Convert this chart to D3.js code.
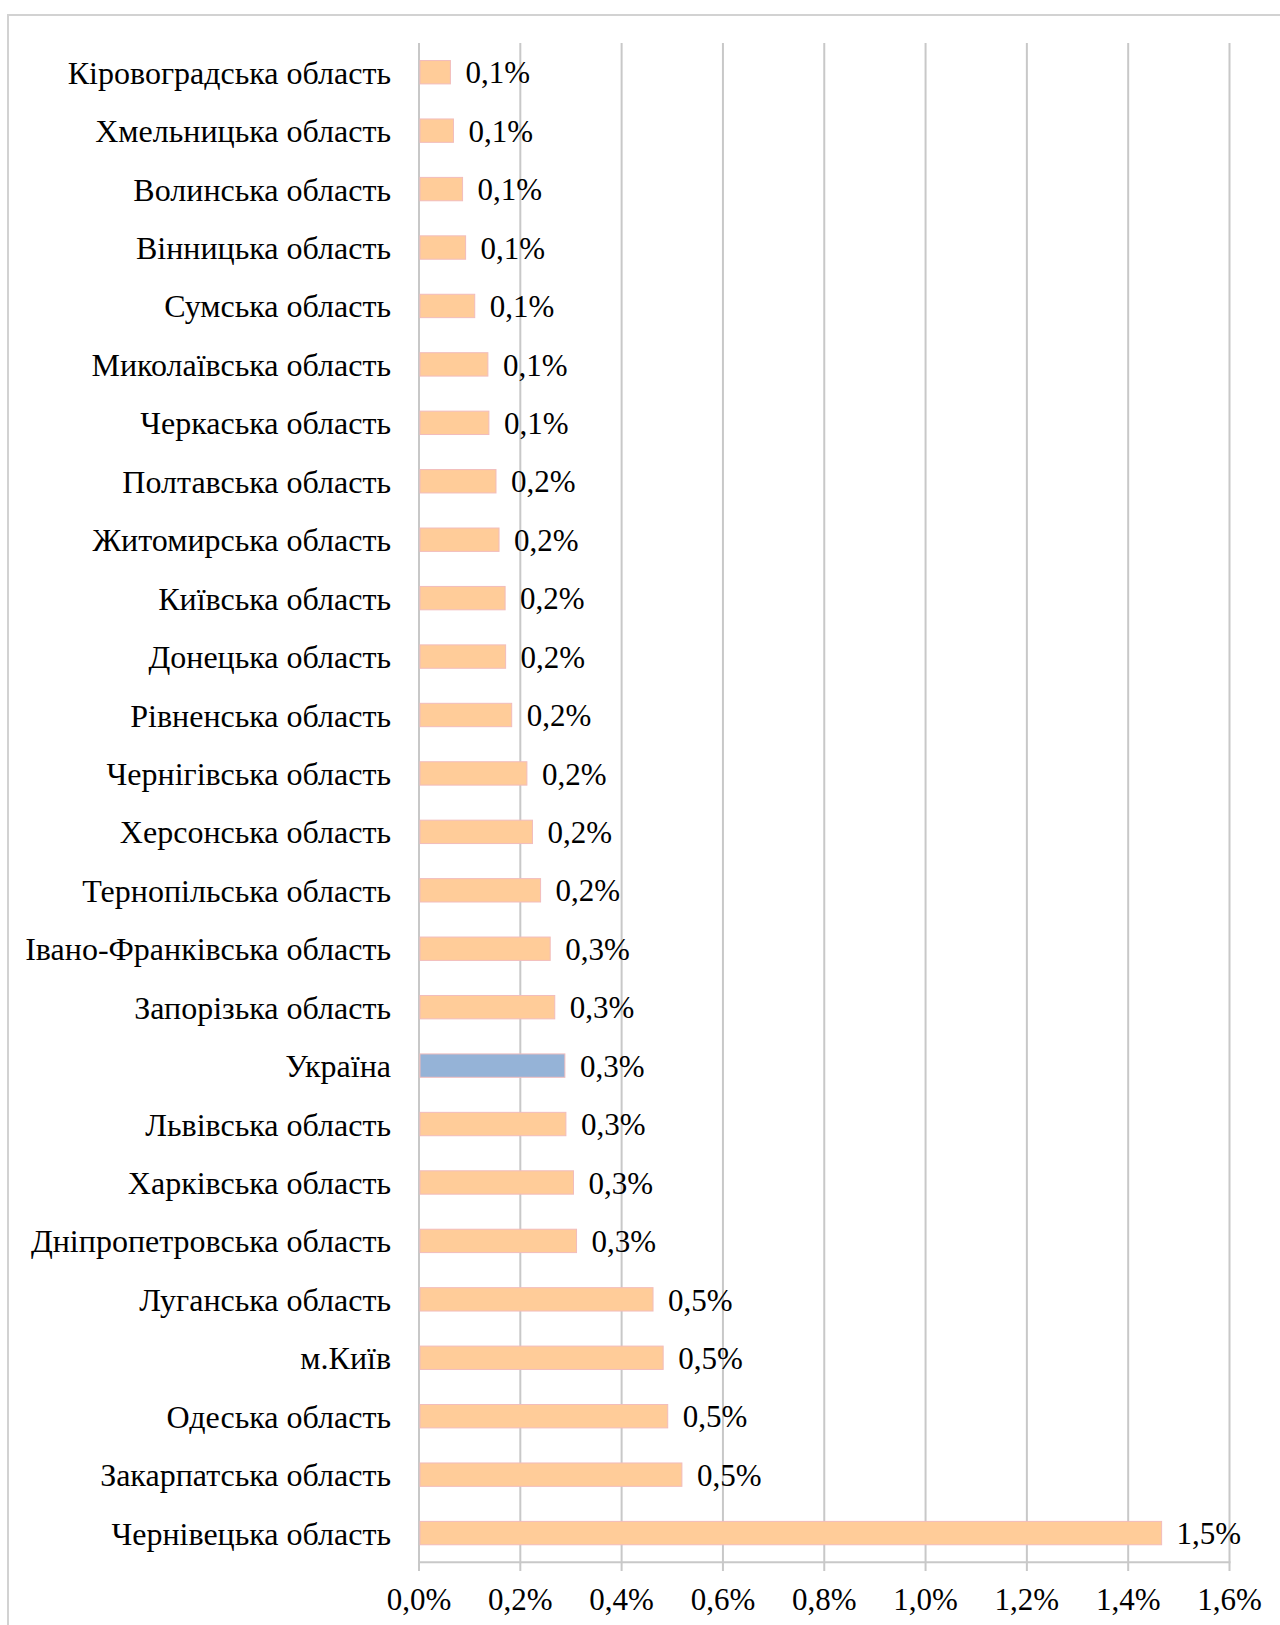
<!DOCTYPE html>
<html>
<head>
<meta charset="utf-8">
<script src="https://cdn.jsdelivr.net/npm/d3@7"></script>
<style>
  html, body { margin: 0; padding: 0; background: #fff; }
  svg { display: block; }
</style>
</head>
<body>
<script>
const categories = [
  "Кіровоградська область", "Хмельницька область", "Волинська область", "Вінницька область",
  "Сумська область", "Миколаївська область", "Черкаська область", "Полтавська область",
  "Житомирська область", "Київська область", "Донецька область", "Рівненська область",
  "Чернігівська область", "Херсонська область", "Тернопільська область", "Івано-Франківська область",
  "Запорізька область", "Україна", "Львівська область", "Харківська область",
  "Дніпропетровська область", "Луганська область", "м.Київ", "Одеська область",
  "Закарпатська область", "Чернівецька область"
];
const values = [
  0.062, 0.068, 0.086, 0.092,
  0.110, 0.136, 0.138, 0.152,
  0.158, 0.170, 0.171, 0.183,
  0.213, 0.224, 0.240, 0.259,
  0.268, 0.288, 0.290, 0.305,
  0.311, 0.462, 0.482, 0.491,
  0.519, 1.466
];
const highlighted = ["Україна"];
const tickValues = [0, 0.2, 0.4, 0.6, 0.8, 1.0, 1.2, 1.4, 1.6];

const W = 1280, H = 1625;
const FONT = "'Liberation Serif', 'Times New Roman', serif";
const FS_NUM = 31;
const FS_CAT = 32;

const svg = d3.select("body").append("svg").attr("width", W).attr("height", H);

// frame
svg.append("rect").attr("x", 8).attr("y", 15).attr("width", W + 20).attr("height", H + 20)
  .attr("fill", "none").attr("stroke", "#d2d2d2").attr("stroke-width", 2);

const x = d3.scaleLinear().domain([0, 1.6]).range([419, 1229.5]);
const y = d3.scaleBand().domain(categories).range([43, 1562.3]).paddingInner(0.6).paddingOuter(0.3);

const fmt = v => d3.format(".1f")(v).replace(".", ",") + "%";

// gridlines
svg.append("g").selectAll("line").data(tickValues).join("line")
  .attr("x1", d => x(d)).attr("x2", d => x(d))
  .attr("y1", 43).attr("y2", 1571)
  .attr("stroke", "#c8c8c8").attr("stroke-width", 2);

// bottom axis line
svg.append("line").attr("x1", x(0)).attr("x2", x(1.6) + 1).attr("y1", 1562.3).attr("y2", 1562.3)
  .attr("stroke", "#c8c8c8").attr("stroke-width", 2);

// tick labels
svg.append("g").selectAll("text").data(tickValues).join("text")
  .attr("x", d => x(d)).attr("y", 1610)
  .attr("text-anchor", "middle")
  .attr("font-family", FONT).attr("font-size", FS_NUM).attr("fill", "#000")
  .text(fmt);

// bars
const data = categories.map((c, i) => ({ c, v: values[i] }));
svg.append("g").selectAll("rect").data(data).join("rect")
  .attr("x", x(0) + 1)
  .attr("y", d => y(d.c))
  .attr("width", d => x(d.v) - x(0) - 1)
  .attr("height", y.bandwidth())
  .attr("fill", d => highlighted.includes(d.c) ? "#95b3d7" : "#ffcc99")
  .attr("stroke", "#f2bcbc").attr("stroke-width", 1);

// value labels
svg.append("g").selectAll("text").data(data).join("text")
  .attr("x", d => x(d.v) + 15)
  .attr("y", d => y(d.c) + y.bandwidth() / 2)
  .attr("dy", "0.36em")
  .attr("font-family", FONT).attr("font-size", FS_NUM).attr("fill", "#000")
  .text(d => fmt(d.v));

// category labels
svg.append("g").selectAll("text").data(data).join("text")
  .attr("x", 391)
  .attr("y", d => y(d.c) + y.bandwidth() / 2)
  .attr("dy", "0.36em")
  .attr("text-anchor", "end")
  .attr("font-family", FONT).attr("font-size", FS_CAT).attr("fill", "#000")
  .text(d => d.c);
</script>
</body>
</html>
